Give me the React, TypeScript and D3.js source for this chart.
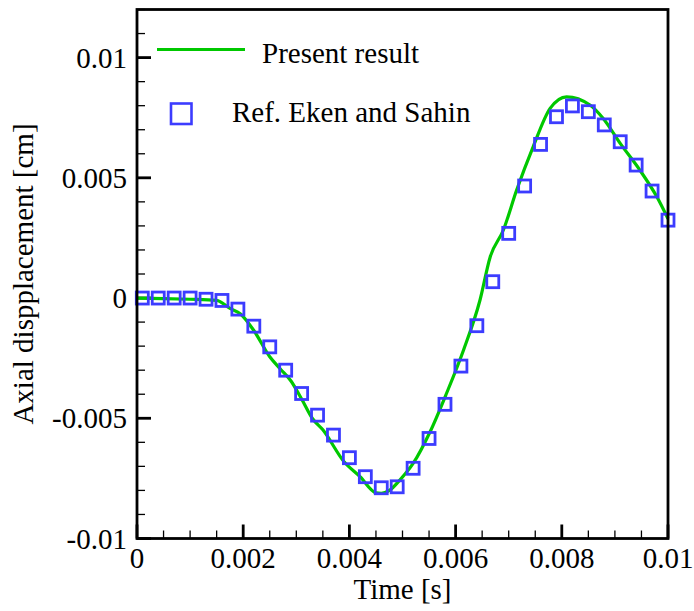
import React, { useEffect, useRef } from "react";
import * as d3 from "d3";

// present result (green line)
const presentTime = [
  0, 0.0005, 0.001, 0.0015, 0.00175, 0.00195, 0.0022, 0.0025, 0.0027, 0.0029,
  0.0031, 0.0033, 0.0035, 0.0039, 0.0042, 0.0045, 0.0046, 0.00476, 0.00495,
  0.0052, 0.00552, 0.00583, 0.00615, 0.00646, 0.00665, 0.0069, 0.00715,
  0.00746, 0.00778, 0.00809, 0.00853, 0.00878, 0.0091, 0.00947, 0.00979, 0.01,
];
const presentDisp = [
  0, -0.00002, -0.00005, -0.0001, -0.00043, -0.00066, -0.00135, -0.00244,
  -0.00295, -0.00345, -0.0042, -0.005, -0.00548, -0.00681, -0.00743, -0.0081,
  -0.00812, -0.00799, -0.00757, -0.00688, -0.00556, -0.00396, -0.00216,
  -0.00008, 0.0017, 0.00283, 0.00449, 0.00629, 0.00789, 0.00837, 0.00803,
  0.00747, 0.00643, 0.00532, 0.00421, 0.0033,
];

// Ref. Eken and Sahin (blue squares)
const refTime = [
  0.0001, 0.0004, 0.0007, 0.001, 0.0013, 0.0016, 0.0019, 0.0022, 0.0025,
  0.0028, 0.0031, 0.0034, 0.0037, 0.004, 0.0043, 0.0046, 0.0049, 0.0052,
  0.0055, 0.0058, 0.0061, 0.0064, 0.0067, 0.007, 0.0073, 0.0076, 0.0079,
  0.0082, 0.0085, 0.0088, 0.0091, 0.0094, 0.0097, 0.01,
];
const refDisp = [
  0, 0, 0, 0, -0.00005, -0.0001, -0.00046, -0.00117, -0.00203, -0.003,
  -0.00397, -0.00487, -0.0057, -0.00664, -0.00743, -0.00789, -0.00785,
  -0.00708, -0.00584, -0.00442, -0.00283, -0.00115, 0.00068, 0.00269,
  0.00466, 0.00639, 0.00754, 0.00799, 0.00775, 0.0072, 0.0065, 0.00553,
  0.00445, 0.00324,
];

const xTicks = [0, 0.002, 0.004, 0.006, 0.008, 0.01];
const xTickLabels = ["0", "0.002", "0.004", "0.006", "0.008", "0.01"];
const yTicks = [-0.01, -0.005, 0, 0.005, 0.01];
const yTickLabels = ["-0.01", "-0.005", "0", "0.005", "0.01"];

const legendLabels = ["Present result", "Ref. Eken and Sahin"];

const WIDTH = 694;
const HEIGHT = 611;
const FONT = "'Liberation Serif', 'Times New Roman', serif";

export default function App() {
  const svgRef = useRef<SVGSVGElement>(null);

  useEffect(() => {
    const svg = d3.select(svgRef.current);
    svg.selectAll("*").remove();

    const margin = { top: 9.5, right: 26, bottom: 72.5, left: 137 };
    const w = WIDTH - margin.left - margin.right;
    const h = HEIGHT - margin.top - margin.bottom;

    const x = d3.scaleLinear().domain([0, 0.01]).range([0, w]);
    const y = d3.scaleLinear().domain([-0.01, 0.012]).range([h, 0]);

    const g = svg.append("g")
      .attr("transform", "translate(" + margin.left + "," + margin.top + ")");

    // minor ticks
    const xMinor = d3.range(0, 0.01 + 1e-9, 0.0005).filter(v => !xTicks.some(t => Math.abs(t - v) < 1e-9));
    const yMinor = d3.range(-0.01, 0.012 + 1e-9, 0.001).filter(v => !yTicks.some(t => Math.abs(t - v) < 1e-9));

    g.selectAll(".xminor").data(xMinor).enter().append("line")
      .attr("x1", d => x(d)).attr("x2", d => x(d))
      .attr("y1", h).attr("y2", h - 8)
      .attr("stroke", "#000").attr("stroke-width", 1.3);
    g.selectAll(".yminor").data(yMinor).enter().append("line")
      .attr("x1", 0).attr("x2", 8)
      .attr("y1", d => y(d)).attr("y2", d => y(d))
      .attr("stroke", "#000").attr("stroke-width", 1.3);

    g.selectAll(".xmajor").data(xTicks).enter().append("line")
      .attr("x1", d => x(d)).attr("x2", d => x(d))
      .attr("y1", h).attr("y2", h - 14)
      .attr("stroke", "#000").attr("stroke-width", 2.8);
    g.selectAll(".ymajor").data(yTicks).enter().append("line")
      .attr("x1", 0).attr("x2", 14)
      .attr("y1", d => y(d)).attr("y2", d => y(d))
      .attr("stroke", "#000").attr("stroke-width", 2.8);

    // tick labels
    g.selectAll(".xlabel").data(xTicks).enter().append("text")
      .attr("x", d => x(d)).attr("y", h + 29)
      .attr("text-anchor", "middle")
      .style("font-family", FONT).style("font-size", "29px")
      .text((d, i) => xTickLabels[i]);
    g.selectAll(".ylabel").data(yTicks).enter().append("text")
      .attr("x", -10).attr("y", d => y(d) + 10)
      .attr("text-anchor", "end")
      .style("font-family", FONT).style("font-size", "29px")
      .text((d, i) => yTickLabels[i]);

    // green line
    const line = d3.line<number>()
      .x((d, i) => x(presentTime[i]))
      .y(d => y(d))
      .curve(d3.curveMonotoneX);
    g.append("path")
      .datum(presentDisp)
      .attr("d", line)
      .attr("fill", "none")
      .attr("stroke", "#00c800")
      .attr("stroke-width", 3.2)
      .attr("stroke-linejoin", "round");

    // squares
    const s = 12;
    g.selectAll(".sq").data(refDisp).enter().append("rect")
      .attr("x", (d, i) => x(refTime[i]) - s / 2)
      .attr("y", d => y(d) - s / 2)
      .attr("width", s).attr("height", s)
      .attr("fill", "none")
      .attr("stroke", "#3c3cff")
      .attr("stroke-width", 2.8);

    // frame
    g.append("rect")
      .attr("x", 0).attr("y", 0).attr("width", w).attr("height", h)
      .attr("fill", "none").attr("stroke", "#000").attr("stroke-width", 2.8);

    // legend
    svg.append("line")
      .attr("x1", 157).attr("x2", 245).attr("y1", 49.5).attr("y2", 49.5)
      .attr("stroke", "#00c800").attr("stroke-width", 3.2);
    svg.append("text")
      .attr("x", 262).attr("y", 62.5)
      .style("font-family", FONT).style("font-size", "29px")
      .text(legendLabels[0]);
    svg.append("rect")
      .attr("x", 171).attr("y", 103.5).attr("width", 20.5).attr("height", 20.5)
      .attr("fill", "none").attr("stroke", "#3c3cff").attr("stroke-width", 2.6);
    svg.append("text")
      .attr("x", 232).attr("y", 121.5)
      .style("font-family", FONT).style("font-size", "29px")
      .text(legendLabels[1]);

    // axis titles
    svg.append("text")
      .attr("x", margin.left + w / 2).attr("y", 599)
      .attr("text-anchor", "middle")
      .style("font-family", FONT).style("font-size", "29px")
      .text("Time [s]");
    svg.append("text")
      .attr("transform", "translate(33," + (margin.top + h / 2) + ") rotate(-90)")
      .attr("text-anchor", "middle")
      .style("font-family", FONT).style("font-size", "29px")
      .text("Axial dispplacement [cm]");
  }, []);

  return (
    <svg ref={svgRef} width={WIDTH} height={HEIGHT}
      style={{ position: "absolute", left: 0, top: 0, background: "#fff" }} />
  );
}
